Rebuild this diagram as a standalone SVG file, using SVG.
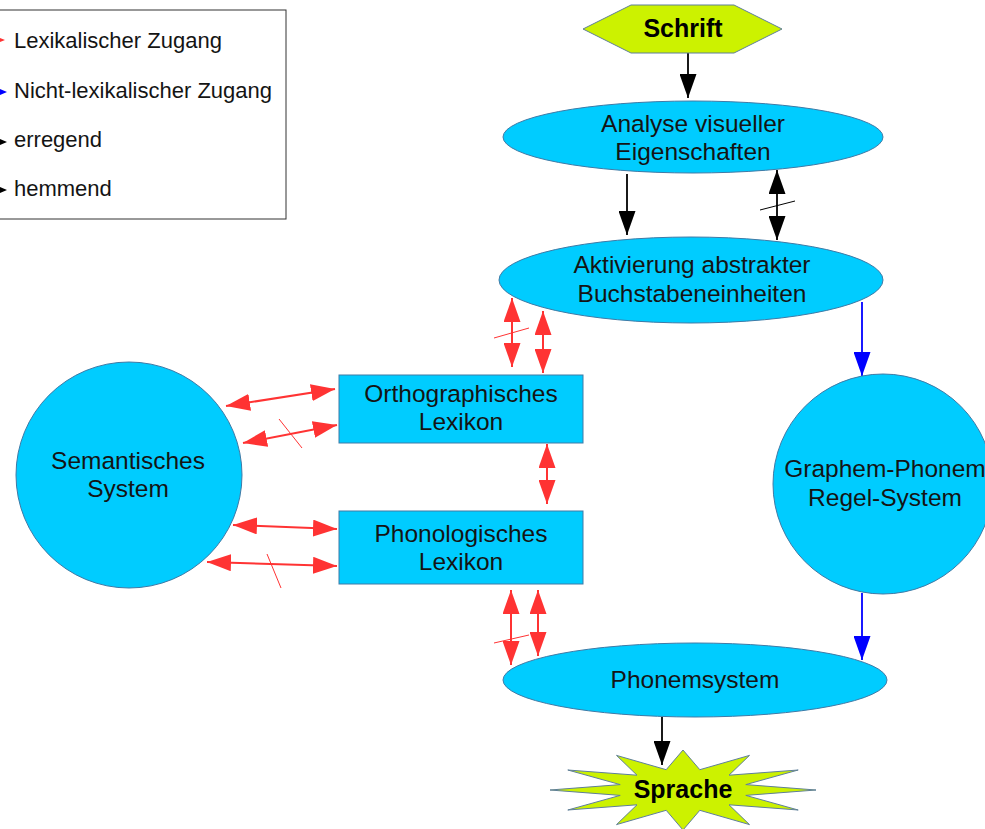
<svg xmlns="http://www.w3.org/2000/svg" width="985" height="829" viewBox="0 0 985 829">
  <style>
    .lbl { font-family: "Liberation Sans", Arial, sans-serif; font-size: 24.5px; fill: #141414; text-anchor: middle; }
    .bold { font-weight: bold; font-size: 25px; fill: #000; }
    .leg { font-family: "Liberation Sans", Arial, sans-serif; font-size: 22px; fill: #141414; }
    .cyan { fill: #00ccff; stroke: #3f7aa6; stroke-width: 1; }
    .lime { fill: #ccf200; stroke: #5f7f99; stroke-width: 1; }
    .red { stroke: #ff3333; stroke-width: 2; fill: none; marker-start: url(#hr); marker-end: url(#hr); }
    .slash-r { stroke: #ff3333; stroke-width: 1; }
    .blk { stroke: #000; stroke-width: 1.8; fill: none; }
    .blu { stroke: #0000ff; stroke-width: 1.8; fill: none; marker-end: url(#hu); }
  </style>
  <defs>
    <marker id="hr" viewBox="0 0 24 17" markerWidth="24" markerHeight="17" refX="24" refY="8.5" orient="auto-start-reverse" markerUnits="userSpaceOnUse">
      <path d="M0,0L24,8.5L0,17z" fill="#ff3333"/>
    </marker>
    <marker id="hk" viewBox="0 0 24 17" markerWidth="24" markerHeight="17" refX="24" refY="8.5" orient="auto-start-reverse" markerUnits="userSpaceOnUse">
      <path d="M0,0L24,8.5L0,17z" fill="#000"/>
    </marker>
    <marker id="hu" viewBox="0 0 24 17" markerWidth="24" markerHeight="17" refX="24" refY="8.5" orient="auto-start-reverse" markerUnits="userSpaceOnUse">
      <path d="M0,0L24,8.5L0,17z" fill="#0000ff"/>
    </marker>
  </defs>

  <rect width="985" height="829" fill="#fff"/>

  <!-- legend -->
  <g id="legend">
    <rect x="-5" y="10" width="291" height="209" fill="#fff" stroke="#333" stroke-width="1"/>
    <polygon points="0,38 5,40 0,42" fill="#ff3333"/>
    <polygon points="0,89 7,92 0,95" fill="#0000ff"/>
    <polygon points="0,139 7,142 0,145" fill="#000"/>
    <polygon points="0,187 7,190 0,193" fill="#000"/>
    <text class="leg" x="14" y="48">Lexikalischer Zugang</text>
    <text class="leg" x="14" y="98">Nicht-lexikalischer Zugang</text>
    <text class="leg" x="14" y="147">erregend</text>
    <text class="leg" x="14" y="196">hemmend</text>
  </g>

  <!-- connectors -->
  <g id="connectors">
    <!-- excitatory / inhibitory (black) -->
    <path class="blk" d="M688,53V98" marker-end="url(#hk)"/>
    <path class="blk" d="M627,174V235" marker-end="url(#hk)"/>
    <path class="blk" d="M777,170V240" marker-start="url(#hk)" marker-end="url(#hk)"/>
    <line x1="760" y1="210" x2="795" y2="201" stroke="#000" stroke-width="1"/>
    <path class="blk" d="M662,717V765" marker-end="url(#hk)"/>

    <!-- non-lexical route (blue) -->
    <path class="blu" d="M862,302V376"/>
    <path class="blu" d="M862,593V660"/>

    <!-- lexical route (red) -->
    <path class="red" d="M226,406L335,389"/>
    <path class="red" d="M243,443L337,425"/>
    <line class="slash-r" x1="279" y1="419" x2="302" y2="448"/>
    <path class="red" d="M233,525L337,529"/>
    <path class="red" d="M207,562L337,566"/>
    <line class="slash-r" x1="267" y1="554" x2="281" y2="588"/>
    <path class="red" d="M547,444V504"/>
    <path class="red" d="M512,298V367"/>
    <path class="red" d="M543,311V373"/>
    <line class="slash-r" x1="494" y1="338" x2="529" y2="328"/>
    <path class="red" d="M511,590V665"/>
    <path class="red" d="M538,590V656"/>
    <line class="slash-r" x1="494" y1="643" x2="529" y2="635"/>
  </g>

  <!-- nodes -->
  <g id="schrift">
    <polygon class="lime" points="583,29 631,5 734,5 782,29 734,53 631,53"/>
    <text class="lbl bold" x="683" y="37">Schrift</text>
  </g>

  <g id="analyse">
    <ellipse class="cyan" cx="693" cy="137" rx="190" ry="36"/>
    <text class="lbl" x="693" y="132">Analyse visueller</text>
    <text class="lbl" x="693" y="160">Eigenschaften</text>
  </g>

  <g id="aktivierung">
    <ellipse class="cyan" cx="691" cy="280" rx="192" ry="43"/>
    <text class="lbl" x="692" y="273">Aktivierung abstrakter</text>
    <text class="lbl" x="692" y="302">Buchstabeneinheiten</text>
  </g>

  <g id="semantisch">
    <circle class="cyan" cx="129" cy="475" r="113"/>
    <text class="lbl" x="128" y="469">Semantisches</text>
    <text class="lbl" x="128" y="497">System</text>
  </g>

  <g id="orthographisch">
    <rect class="cyan" x="339" y="375" width="244" height="68"/>
    <text class="lbl" x="461" y="402">Orthographisches</text>
    <text class="lbl" x="461" y="430">Lexikon</text>
  </g>

  <g id="phonologisch">
    <rect class="cyan" x="339" y="511" width="244" height="73"/>
    <text class="lbl" x="461" y="542">Phonologisches</text>
    <text class="lbl" x="461" y="570">Lexikon</text>
  </g>

  <g id="gpk">
    <circle class="cyan" cx="883" cy="484" r="110"/>
    <text class="lbl" x="885" y="477">Graphem-Phonem</text>
    <text class="lbl" x="885" y="506">Regel-System</text>
  </g>

  <g id="phonemsystem">
    <ellipse class="cyan" cx="695" cy="680" rx="192" ry="37"/>
    <text class="lbl" x="695" y="688">Phonemsystem</text>
  </g>

  <g id="sprache">
    <polygon class="lime" points="816,790 745.8,784.6 798.2,770 729,775.2 749.5,755.4 699.8,769.7 683,750 666.2,769.7 616.5,755.4 637,775.2 567.8,770 620.2,784.6 550,790 620.2,795.4 567.8,810 637,804.8 616.5,824.6 666.2,810.3 683,830 699.8,810.3 749.5,824.6 729,804.8 798.2,810 745.8,795.4"/>
    <text class="lbl bold" x="683" y="798">Sprache</text>
  </g>
</svg>
